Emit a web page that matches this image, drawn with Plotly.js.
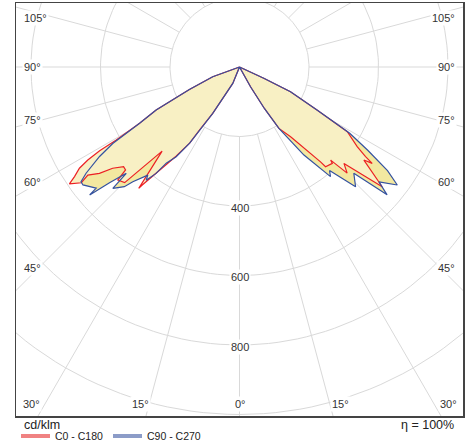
<!DOCTYPE html>
<html><head><meta charset="utf-8">
<script src="https://cdn.plot.ly/plotly-3.0.1.min.js"></script>
<style>html,body{margin:0;padding:0;background:#fff;overflow:hidden}</style>
</head><body><div id="chart" style="width:471px;height:442px"></div>
<script>
// ---- data (gamma in degrees, intensity in cd/klm) ----
const gridRadii = [200, 400, 600, 800, 1000];
const radiusLabelValues = [400, 600, 800];
const spokeStep = 15;
const leftAngleLabels = ['105°', '90°', '75°', '60°', '45°'];
const rightAngleLabels = ['105°', '90°', '75°', '60°', '45°'];
const bottomAngleLabels = ['30°', '15°', '0°', '15°', '30°'];
const unitLabel = 'cd/klm';
const efficiencyLabel = 'η = 100%';
const seriesNames = ['C0 - C180', 'C90 - C270'];

// C0 (right, red)
const c0Gamma = [0, 28, 29.2, 31, 32.7, 36.2, 40.5, 40.8, 43.9, 44.4, 45.4, 47.3, 50, 53.2, 54, 54.6, 55.9, 59, 61, 64.2, 65.1, 67, 90];
const c0Value = [0, 0, 65, 140, 210, 249, 359, 379, 385, 375, 435, 409, 536, 447, 472, 445, 409, 362, 255, 163, 77, 0, 0];
// C180 (left, red)
const c180Gamma = [0, 21, 22.3, 30, 32.4, 33.2, 35.4, 39.5, 39.7, 42.6, 44.8, 47.1, 47.9, 49.3, 51.4, 52.8, 54.5, 53.8, 55.5, 56.4, 57.7, 58.5, 59.1, 59.4, 60.6, 62.7, 63.7, 65.9, 70, 72, 90];
const c180Value = [0, 0, 51, 154, 215, 262, 314, 440, 454, 329, 469, 478, 442, 440, 467, 506, 536, 564, 594, 570, 545, 512, 469, 412, 330, 270, 214, 158, 82, 0, 0];
// C90 (right, blue)
const c90Gamma = [0, 28, 29.2, 31, 32.7, 36.2, 39.7, 41, 44.1, 47.1, 49.1, 50.5, 53.2, 55, 57, 59, 61, 64.2, 65.1, 67, 90];
const c90Value = [0, 0, 65, 140, 210, 314, 410, 395, 480, 449, 562, 520, 567, 520, 440, 370, 255, 163, 77, 0, 0];
// C270 (left, blue)
const c270Gamma = [0, 21, 22.3, 30, 32.4, 33.2, 35.2, 37.3, 38.1, 39.5, 40.3, 42.9, 43.9, 46.2, 46.8, 48.3, 49.5, 49.8, 53, 54.1, 55.3, 57.4, 58.9, 60.6, 62.7, 63.7, 65.9, 70, 72, 90];
const c270Value = [0, 0, 51, 154, 215, 262, 316, 348, 389, 422, 408, 451, 478, 505, 447, 501, 567, 540, 564, 563, 537, 478, 426, 330, 270, 214, 158, 82, 0, 0];

// ---- helpers ----
const rad = d => d * Math.PI / 180;
function lobe(leftG, leftV, rightG, rightV) {
  const x = [], y = [];
  for (let i = leftG.length - 1; i >= 0; i--) { x.push(-leftV[i] * Math.sin(rad(leftG[i]))); y.push(-leftV[i] * Math.cos(rad(leftG[i]))); }
  for (let i = 0; i < rightG.length; i++) { x.push(rightV[i] * Math.sin(rad(rightG[i]))); y.push(-rightV[i] * Math.cos(rad(rightG[i]))); }
  return {x, y};
}
const red = lobe(c180Gamma, c180Value, c0Gamma, c0Value);
const blue = lobe(c270Gamma, c270Value, c90Gamma, c90Value);

const gridColor = '#d9d9d9';
const traces = [];
// circles
const cx = [], cy = [];
gridRadii.forEach(r => { for (let a = 0; a <= 360; a += 2) { cx.push(r * Math.sin(rad(a))); cy.push(r * Math.cos(rad(a))); } cx.push(null); cy.push(null); });
traces.push({x: cx, y: cy, mode: 'lines', line: {color: gridColor, width: 1}, hoverinfo: 'skip', showlegend: false});
// spokes
const sx = [], sy = [];
for (let a = 0; a < 360; a += spokeStep) { sx.push(200 * Math.sin(rad(a)), 3000 * Math.sin(rad(a)), null); sy.push(-200 * Math.cos(rad(a)), -3000 * Math.cos(rad(a)), null); }
traces.push({x: sx, y: sy, mode: 'lines', line: {color: gridColor, width: 1}, hoverinfo: 'skip', showlegend: false});
// fills
traces.push({x: blue.x, y: blue.y, mode: 'none', fill: 'toself', fillcolor: 'rgb(243,232,160)', hoverinfo: 'skip', showlegend: false});
traces.push({x: red.x, y: red.y, mode: 'none', fill: 'toself', fillcolor: 'rgb(248,240,196)', hoverinfo: 'skip', showlegend: false});
// lines
traces.push({x: red.x, y: red.y, mode: 'lines', name: seriesNames[0], line: {color: 'rgb(236,32,36)', width: 1.2}, showlegend: false});
traces.push({x: blue.x, y: blue.y, mode: 'lines', name: seriesNames[1], line: {color: 'rgb(52,82,160)', width: 1.2}, showlegend: false});

// ---- layout ----
const W = 471, H = 442, mL = 16, mR = 8, mT = 3, mB = 26;
const pw = W - mL - mR, ph = H - mT - mB;
const scale = 0.3475; // px per cd/klm
const cyPx = 67;
const xr = (pw / 2) / scale;
const yTop = (cyPx - mT) / scale, yBot = (H - mB - cyPx) / scale;
const px2x = p => (p - mL) / pw, py2y = p => (H - mB - p) / ph;
const font = {family: 'Liberation Sans, Arial, sans-serif', size: 11, color: '#333'};
const ann = [];
const sideY = [18, 67, 120, 182, 268];
leftAngleLabels.forEach((t, i) => ann.push({text: t, xref: 'paper', yref: 'paper', x: px2x(22), y: py2y(sideY[i]), xanchor: 'left', yanchor: 'middle', showarrow: false, bgcolor: '#fff', borderpad: 1, font}));
rightAngleLabels.forEach((t, i) => ann.push({text: t, xref: 'paper', yref: 'paper', x: px2x(457), y: py2y(sideY[i]), xanchor: 'right', yanchor: 'middle', showarrow: false, bgcolor: '#fff', borderpad: 1, font}));
const botX = [31, 140, 240, 340, 448];
bottomAngleLabels.forEach((t, i) => ann.push({text: t, xref: 'paper', yref: 'paper', x: px2x(botX[i]), y: py2y(404), xanchor: 'center', yanchor: 'middle', showarrow: false, bgcolor: '#fff', borderpad: 1, font}));
radiusLabelValues.forEach(v => ann.push({text: String(v), xref: 'x', yref: 'y', x: 0, y: -v, yshift: -1.5, xanchor: 'center', yanchor: 'middle', showarrow: false, bgcolor: '#fff', borderpad: 1, font}));
const bottomFont = {family: font.family, size: 12.5, color: '#222'};
ann.push({text: unitLabel, xref: 'paper', yref: 'paper', x: px2x(22), y: py2y(425), xanchor: 'left', yanchor: 'middle', showarrow: false, font: bottomFont});
ann.push({text: efficiencyLabel, xref: 'paper', yref: 'paper', x: px2x(456), y: py2y(425), xanchor: 'right', yanchor: 'middle', showarrow: false, font: bottomFont});
const legFont = {family: font.family, size: 10.5, color: '#222'};
ann.push({text: seriesNames[0], xref: 'paper', yref: 'paper', x: px2x(53), y: py2y(436), xanchor: 'left', yanchor: 'middle', showarrow: false, font: legFont});
ann.push({text: seriesNames[1], xref: 'paper', yref: 'paper', x: px2x(145), y: py2y(436), xanchor: 'left', yanchor: 'middle', showarrow: false, font: legFont});
const shapes = [
  {type: 'line', xref: 'paper', yref: 'paper', x0: px2x(21), x1: px2x(50), y0: py2y(436), y1: py2y(436), line: {color: 'rgb(240,130,130)', width: 4}},
  {type: 'line', xref: 'paper', yref: 'paper', x0: px2x(113), x1: px2x(142), y0: py2y(436), y1: py2y(436), line: {color: 'rgb(140,156,200)', width: 4}}
];

const layout = {
  width: W, height: H, margin: {l: mL, r: mR, t: mT, b: mB, pad: 0},
  paper_bgcolor: '#fff', plot_bgcolor: '#fff', showlegend: false,
  xaxis: {range: [-xr, xr], showgrid: false, zeroline: false, showticklabels: false, ticks: '', showline: true, mirror: true, linecolor: '#444', linewidth: 1.5, fixedrange: true},
  yaxis: {range: [-yBot, yTop], showgrid: false, zeroline: false, showticklabels: false, ticks: '', showline: true, mirror: true, linecolor: '#444', linewidth: 1.5, fixedrange: true},
  annotations: ann, shapes
};
Plotly.newPlot('chart', traces, layout, {staticPlot: true, displayModeBar: false});
</script></body></html>
